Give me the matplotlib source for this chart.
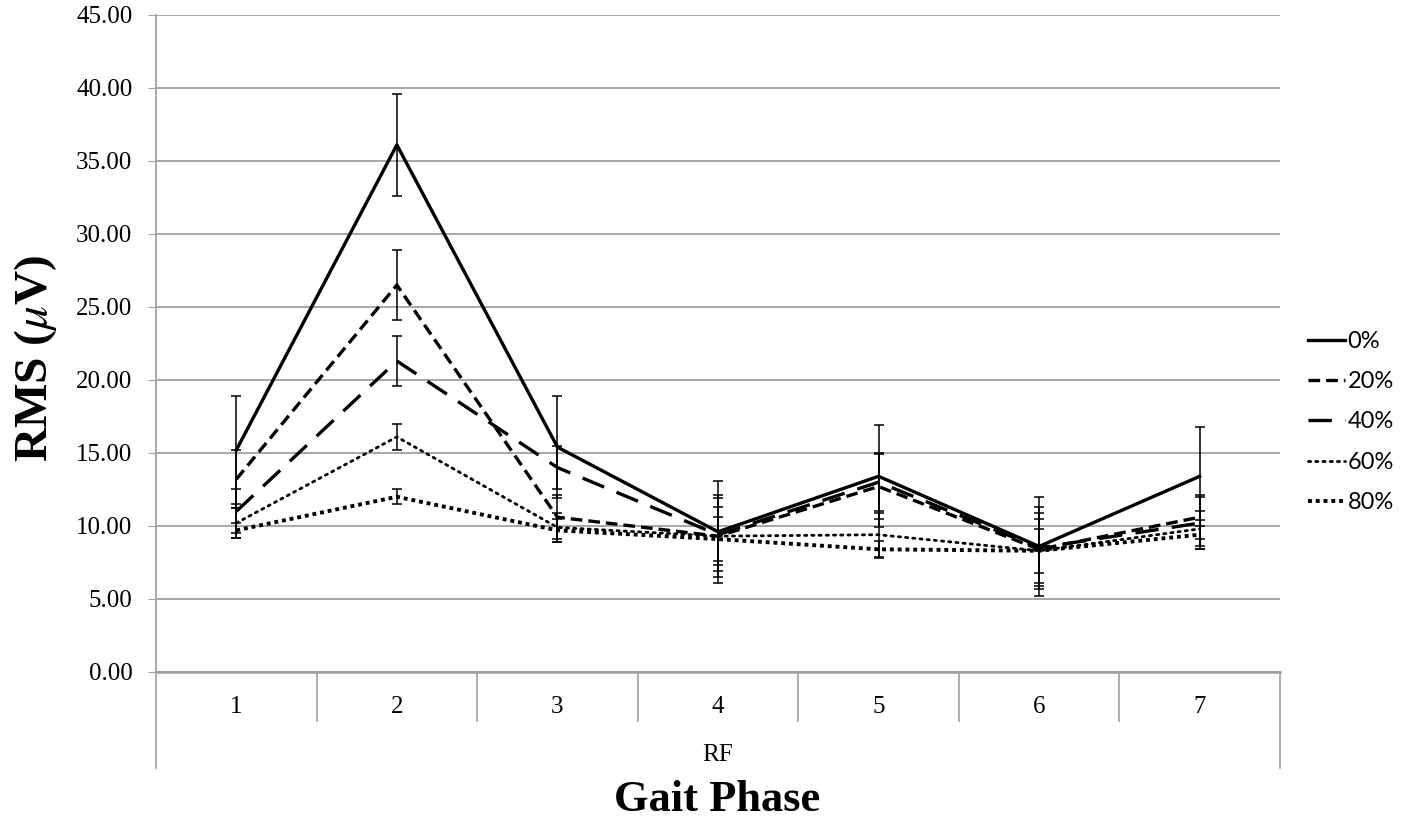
import matplotlib.pyplot as plt
import matplotlib.transforms as mtransforms

plt.rcParams['mathtext.fontset'] = 'stix'

fases = [1, 2, 3, 4, 5, 6, 7]
etiquetas_x = ['1', '2', '3', '4', '5', '6', '7']
grupo = 'RF'

# valores medios (RMS en microvoltios) por condicion
rms_0 = [15.2, 36.1, 15.4, 9.6, 13.4, 8.6, 13.4]
rms_20 = [13.2, 26.5, 10.6, 9.3, 12.7, 8.4, 10.6]
rms_40 = [11.0, 21.3, 14.0, 9.4, 13.0, 8.5, 10.2]
rms_60 = [10.2, 16.1, 9.9, 9.3, 9.4, 8.3, 9.8]
rms_80 = [9.7, 12.0, 9.7, 9.1, 8.4, 8.3, 9.4]

# errores (desviacion) por condicion
err_0 = [3.7, 3.5, 3.5, 3.5, 3.5, 3.4, 3.4]
err_20 = [2.0, 2.4, 1.5, 2.8, 2.2, 2.5, 1.5]
err_40 = [1.5, 1.7, 1.5, 2.5, 2.0, 2.8, 1.8]
err_60 = [1.0, 0.9, 1.0, 2.0, 1.5, 2.2, 1.2]
err_80 = [0.5, 0.5, 0.8, 1.5, 0.6, 1.5, 1.0]

etiquetas = ['0%', '20%', '40%', '60%', '80%']
series = [rms_0, rms_20, rms_40, rms_60, rms_80]
errores = [err_0, err_20, err_40, err_60, err_80]
estilos = [
  dict(linestyle='-', lw=2.4),
  dict(linestyle=(0, (3.5, 1.8)), lw=2.4),
  dict(linestyle=(0, (7, 4)), lw=2.4),
  dict(linestyle=(0, (0.8, 1.8)), lw=2.0, dash_capstyle='round'),
  dict(linestyle=(0, (1.0, 1.0)), lw=2.8),
]

fig = plt.figure(figsize=(14.12, 8.25), dpi=100)
ax = fig.add_axes([0.1105, 0.1855, 0.7960, 0.7964])

gris = '#a0a0a0'
ax.set_xlim(0.5, 7.5)
ax.set_ylim(0, 45)
ax.set_yticks(range(0, 50, 5))
ax.set_yticklabels([f'{v:.2f}' for v in range(0, 50, 5)], fontsize=18,
                   fontfamily='Liberation Serif')
ax.yaxis.grid(True, color=gris, lw=1.3)
ax.set_axisbelow(True)
for s in ['top', 'right']:
  ax.spines[s].set_visible(False)
ax.spines['left'].set_color(gris)
ax.spines['left'].set_linewidth(1.3)
ax.spines['bottom'].set_color(gris)
ax.spines['bottom'].set_linewidth(1.8)
ax.tick_params(axis='y', length=6, color=gris, pad=11)
ax.set_xticks([])

lineas = []
for vals, errs, est, etq in zip(series, errores, estilos, etiquetas):
  l, = ax.plot(fases, vals, color='black', label=etq, **est)
  ax.errorbar(fases, vals, yerr=errs, fmt='none', ecolor='black',
              elinewidth=1.1, capsize=3.5, capthick=1.1)
  lineas.append(l)

# eje de categorias estilo Excel
trans = mtransforms.blended_transform_factory(ax.transData, ax.transAxes)
for b in [0.5 + i for i in range(8)]:
  fondo = -0.146 if b in (0.5, 7.5) else -0.075
  ax.plot([b, b], [0, fondo], transform=trans, color=gris, lw=1.2, clip_on=False)
for f, t in zip(fases, etiquetas_x):
  ax.text(f, -0.053, t, transform=trans, ha='center', va='center',
          fontsize=18, fontfamily='Liberation Serif')
ax.text(4, -0.127, grupo, transform=trans, ha='center', va='center',
        fontsize=18, fontfamily='Liberation Serif')

fig.text(0.5078, 0.030, 'Gait Phase', ha='center', va='center', fontsize=32,
         fontweight='bold', fontfamily='Liberation Serif')
fig.text(0.025, 0.566, r'RMS ($\mu$V)', ha='center', va='center', fontsize=34,
         fontweight='bold', fontfamily='Liberation Serif', rotation=90)

fig.legend(handles=lineas, loc='center left', bbox_to_anchor=(0.9115, 0.4885),
           frameon=False, handlelength=1.57, handletextpad=0.1,
           labelspacing=0.82, prop={'family': 'Lato', 'size': 17})

fig.savefig('out.png', dpi=100)
